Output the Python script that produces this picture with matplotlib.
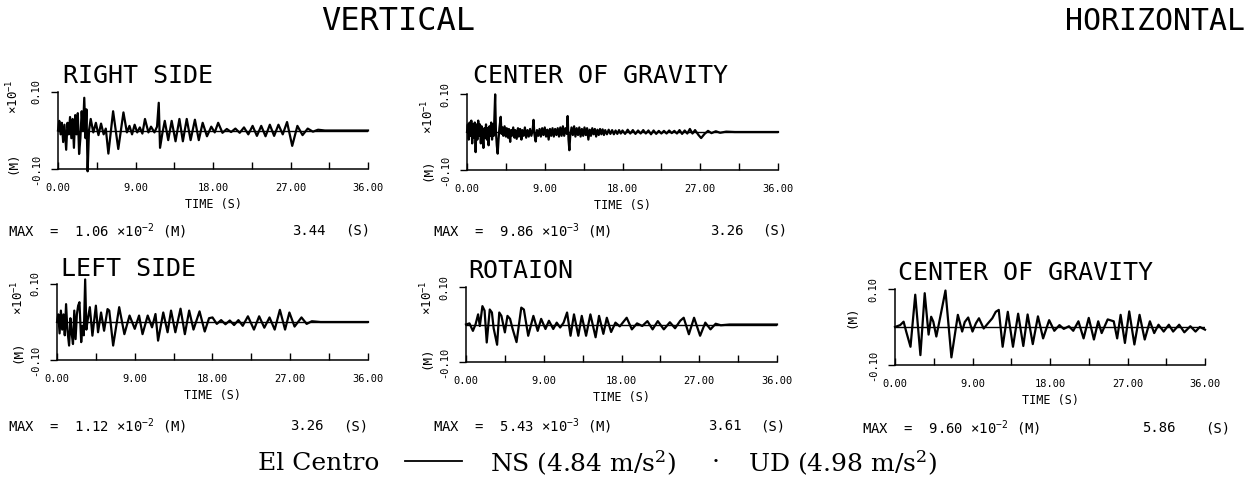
import matplotlib.pyplot as plt
from matplotlib.lines import Line2D

# El Centro response time histories (axis units)
# vertical panels: x10^-1 m, horizontal panel: m
right_side = [(0, 0), (0.15, 0.025), (0.3, -0.01), (0.45, 0.02), (0.6, -0.03), (0.75, 0.015),
              (0.95, -0.05), (1.1, 0.02), (1.25, -0.01), (1.4, 0.035), (1.55, -0.02), (1.7, 0.03),
              (1.85, -0.045), (2.0, 0.04), (2.15, -0.01), (2.3, 0.045), (2.45, -0.061), (2.6, -0.02),
              (2.75, 0.05), (2.9, 0.0), (3.05, 0.085), (3.2, -0.02), (3.3, 0.055), (3.44, -0.106),
              (3.6, 0.0), (3.8, 0.03), (4.1, -0.005), (4.4, 0.02), (4.7, -0.012), (5.0, 0.018),
              (5.3, -0.01), (5.55, 0.005), (5.85, -0.06), (6.4, 0.05), (7.0, -0.048), (7.6, 0.047),
              (8.0, -0.005), (8.3, 0.012), (8.6, -0.01), (8.9, 0.015), (9.2, -0.005), (9.5, 0.008),
              (9.8, -0.008), (10.1, 0.03), (10.5, -0.005), (10.8, 0.01), (11.2, -0.005), (11.5, 0.01),
              (11.7, 0.072), (11.85, -0.045), (12.1, -0.01), (12.4, 0.025), (12.8, -0.025), (13.2, 0.025),
              (13.65, -0.028), (14.1, 0.03), (14.5, -0.028), (14.95, 0.03), (15.4, -0.025), (15.9, 0.028),
              (16.35, -0.025), (16.8, 0.02), (17.3, -0.015), (17.8, 0.01), (18.2, -0.005), (18.6, 0.02),
              (19.1, -0.006), (19.6, 0.004), (20.1, -0.004), (20.6, 0.005), (21.1, -0.006), (21.6, 0.008),
              (22.1, -0.01), (22.6, 0.012), (23.1, -0.014), (23.6, 0.012), (24.1, -0.015), (24.6, 0.015),
              (25.1, -0.014), (25.6, 0.015), (26.1, -0.01), (26.6, 0.022), (27.2, -0.04), (27.8, 0.012),
              (28.4, -0.012), (29.0, 0.005), (29.6, -0.003), (30.2, 0.002), (31, 0), (36, 0)]

cg_vert = [(0, 0), (0.1, 0.02), (0.2, -0.02), (0.3, 0.025), (0.4, -0.01), (0.5, 0.03), (0.6, -0.03),
           (0.7, 0.02), (0.8, -0.015), (0.9, 0.025), (1.0, -0.053), (1.1, 0.02), (1.2, -0.02), (1.3, 0.03),
           (1.4, -0.01), (1.5, 0.02), (1.6, -0.03), (1.7, 0.015), (1.8, -0.01), (1.9, -0.042), (2.0, 0.01),
           (2.1, -0.015), (2.2, 0.02), (2.3, -0.02), (2.4, 0.01), (2.5, -0.035), (2.6, 0.015), (2.7, -0.01),
           (2.8, 0.025), (2.9, -0.02), (3.0, 0.02), (3.1, -0.01), (3.26, 0.099), (3.35, 0.0), (3.45, -0.035),
           (3.55, -0.057), (3.65, -0.02), (3.75, 0.01), (3.9, 0.04), (4.0, -0.005), (4.1, 0.012), (4.2, -0.01),
           (4.35, 0.015), (4.5, -0.012), (4.6, 0.01), (4.75, -0.015), (4.85, 0.008), (5.0, -0.026), (5.1, 0.005),
           (5.2, -0.01), (5.35, 0.012), (5.5, -0.015), (5.6, 0.005), (5.75, -0.018), (5.9, 0.01), (6.0, -0.012),
           (6.15, 0.008), (6.3, -0.02), (6.4, 0.005), (6.55, -0.01), (6.7, 0.012), (6.85, -0.015), (7.0, 0.005),
           (7.15, -0.012), (7.3, 0.008), (7.45, -0.01), (7.6, 0.005), (7.7, 0.032), (7.8, -0.005), (7.95, -0.025),
           (8.1, 0.005), (8.25, -0.01), (8.4, 0.008), (8.55, -0.012), (8.7, 0.01), (8.85, -0.008), (9.0, 0.012),
           (9.15, -0.012), (9.3, 0.006), (9.45, -0.02), (9.6, 0.008), (9.75, -0.01), (9.9, 0.01), (10.05, -0.012),
           (10.2, 0.008), (10.35, -0.008), (10.5, 0.01), (10.65, -0.012), (10.8, 0.012), (10.95, -0.01),
           (11.1, 0.015), (11.25, -0.01), (11.4, 0.01), (11.55, -0.005), (11.65, 0.042), (11.75, -0.02),
           (11.85, -0.048), (11.95, -0.01), (12.1, 0.012), (12.25, -0.008), (12.4, 0.015), (12.55, -0.012),
           (12.7, 0.01), (12.85, -0.008), (13.0, 0.012), (13.15, -0.012), (13.3, 0.008), (13.45, -0.01),
           (13.6, 0.012), (13.75, -0.008), (13.9, 0.01), (14.05, -0.02), (14.2, 0.006), (14.35, -0.01),
           (14.5, 0.01), (14.65, -0.006), (14.8, 0.008), (14.95, -0.012), (15.1, 0.006), (15.25, -0.008),
           (15.4, 0.008), (15.55, -0.006), (15.7, 0.007), (15.85, -0.008), (16.0, 0.005), (16.2, -0.006),
           (16.4, 0.006), (16.6, -0.005), (16.8, 0.005), (17.0, -0.006), (17.2, 0.004), (17.4, -0.005),
           (17.6, 0.005), (17.8, -0.004), (18.0, 0.004), (18.3, -0.005), (18.6, 0.006), (18.9, -0.004),
           (19.2, 0.005), (19.5, -0.005), (19.8, 0.004), (20.1, -0.004), (20.4, 0.005), (20.7, -0.004),
           (21.0, 0.004), (21.3, -0.006), (21.6, 0.004), (21.9, -0.005), (22.2, 0.003), (22.5, -0.004),
           (22.8, 0.003), (23.1, -0.004), (23.4, 0.004), (23.7, -0.003), (24.0, 0.003), (24.3, -0.004),
           (24.6, 0.005), (24.9, -0.005), (25.2, 0.004), (25.5, -0.004), (25.8, 0.008), (26.1, -0.004),
           (26.4, 0.005), (26.8, -0.008), (27.1, -0.016), (27.5, -0.005), (27.9, 0.003), (28.3, -0.003),
           (28.8, 0.002), (29.3, -0.002), (30, 0.001), (31, 0), (36, 0)]

left_side = [(0, 0), (0.15, 0.02), (0.3, -0.03), (0.45, 0.03), (0.6, -0.02), (0.75, 0.02), (0.9, -0.035),
             (1.05, 0.047), (1.2, -0.02), (1.4, -0.062), (1.55, 0.01), (1.7, -0.03), (1.85, -0.058), (2.0, 0.03),
             (2.15, -0.045), (2.3, 0.02), (2.45, 0.043), (2.6, 0.052), (2.8, -0.053), (2.95, -0.01),
             (3.1, -0.035), (3.26, 0.112), (3.4, -0.02), (3.55, 0.005), (3.8, 0.039), (4.1, -0.036),
             (4.5, 0.043), (4.75, -0.027), (5.1, 0.025), (5.45, -0.023), (5.85, 0.034), (6.05, 0.03),
             (6.5, -0.062), (7.2, 0.039), (7.8, -0.032), (8.4, 0.017), (9.0, -0.018), (9.5, 0.017),
             (9.9, -0.032), (10.5, 0.017), (11.0, -0.014), (11.4, 0.021), (11.7, -0.049), (12.3, 0.025),
             (12.8, -0.027), (13.2, 0.03), (13.7, -0.027), (14.3, 0.035), (14.8, -0.032), (15.3, 0.03),
             (15.8, -0.02), (16.5, 0.028), (17.1, -0.025), (17.6, 0.01), (18.0, 0.012), (18.5, -0.005),
             (19.0, 0.005), (19.5, -0.006), (20.0, 0.004), (20.5, -0.008), (21.0, 0.005), (21.5, -0.01),
             (22.1, 0.015), (22.8, -0.02), (23.4, 0.015), (24.0, -0.015), (24.6, 0.012), (25.2, -0.02),
             (25.8, 0.032), (26.4, -0.02), (26.9, 0.025), (27.5, -0.012), (28.3, 0.012), (28.9, -0.005),
             (29.5, 0.002), (30.5, 0), (36, 0)]

rotation = [(0, 0), (0.4, 0.003), (0.8, -0.017), (1.1, 0.0), (1.4, 0.027), (1.6, -0.004), (1.9, 0.049),
            (2.15, 0.037), (2.4, -0.048), (2.75, 0.04), (3.0, 0.032), (3.2, -0.01), (3.6, -0.054),
            (3.85, 0.032), (4.1, 0.023), (4.5, -0.021), (4.8, 0.023), (5.1, 0.015), (5.4, -0.012),
            (5.85, -0.047), (6.4, 0.045), (6.7, 0.04), (7.2, -0.03), (7.8, 0.023), (8.3, -0.017),
            (8.7, 0.015), (9.2, -0.012), (9.6, 0.01), (10.1, -0.012), (10.5, 0.005), (10.9, -0.008),
            (11.3, 0.005), (11.7, 0.032), (12.1, -0.03), (12.5, 0.027), (13.0, -0.03), (13.4, 0.023),
            (13.9, -0.03), (14.4, 0.027), (15.0, -0.034), (15.4, 0.023), (15.9, -0.025), (16.3, 0.018),
            (16.8, -0.02), (17.3, 0.005), (17.8, -0.005), (18.6, 0.018), (19.2, -0.013), (19.8, 0.003),
            (20.4, -0.004), (21.0, 0.009), (21.6, -0.013), (22.2, 0.009), (22.9, -0.013), (23.6, 0.006),
            (24.2, -0.01), (24.8, 0.01), (25.2, 0.018), (25.8, -0.026), (26.4, 0.018), (27.1, -0.03),
            (27.7, 0.005), (28.3, -0.013), (28.9, 0.002), (29.5, -0.002), (30.5, 0), (36, 0)]

cg_horiz = [(0, 0), (0.6, 0.005), (1.0, 0.014), (1.3, -0.012), (1.8, -0.052), (2.35, 0.085), (2.95, -0.074),
            (3.45, 0.089), (3.9, -0.02), (4.2, 0.027), (4.45, 0.014), (4.8, -0.025), (5.2, 0.02), (5.86, 0.096),
            (6.55, -0.08), (7.3, 0.032), (7.8, -0.012), (8.1, 0.013), (8.5, 0.025), (9.0, -0.012), (9.4, 0.01),
            (9.75, 0.023), (10.3, -0.004), (10.7, 0.007), (11.3, 0.023), (11.7, 0.04), (12.05, 0.045),
            (12.5, -0.052), (13.1, 0.04), (13.7, -0.052), (14.3, 0.035), (14.9, -0.05), (15.4, 0.033),
            (16.0, -0.045), (16.6, 0.028), (17.2, -0.03), (17.9, 0.018), (18.5, -0.01), (19.1, 0.005),
            (19.6, -0.005), (20.2, 0.002), (20.7, -0.01), (21.3, 0.015), (21.9, -0.03), (22.5, 0.024),
            (23.1, -0.033), (23.6, 0.015), (24.0, -0.016), (24.7, 0.02), (25.4, 0.015), (25.8, -0.03),
            (26.2, 0.032), (26.7, -0.042), (27.2, 0.041), (27.8, -0.046), (28.4, 0.032), (29.0, -0.033),
            (29.6, 0.015), (30.1, -0.016), (30.6, 0.006), (31.2, -0.012), (31.8, 0.006), (32.3, -0.012),
            (33.0, 0.006), (33.6, -0.014), (34.3, 0.002), (34.9, -0.012), (35.4, 0.0), (36, -0.007)]

x_major = [0, 9, 18, 27, 36]
x_minor = [4.5, 13.5, 22.5, 31.5]

W, H = 1255, 483
plt.rcParams['font.family'] = 'DejaVu Sans Mono'
plt.rcParams['mathtext.default'] = 'regular'

fig = plt.figure(figsize=(W / 100, H / 100), dpi=100)


def ftext(x, y, s, **kw):
    kw.setdefault('ha', 'left')
    kw.setdefault('va', 'center')
    fig.text(x / W, 1 - y / H, s, **kw)


def draw(box, pts):
    x0, x1, ytop, ybot = box
    ax = fig.add_axes([x0 / W, 1 - ybot / H, (x1 - x0) / W, (ybot - ytop) / H])
    t, v = zip(*pts)
    ax.plot(t, v, color='black', lw=1.6, clip_on=False, solid_joinstyle='round')
    ax.axhline(0, color='black', lw=1.0)
    ax.set_xlim(0, 36)
    ax.set_ylim(-0.1, 0.1)
    ax.patch.set_visible(False)
    for s in ['top', 'right']:
        ax.spines[s].set_visible(False)
    for s in ['left', 'bottom']:
        ax.spines[s].set_linewidth(1.1)
    ax.set_xticks(x_major)
    ax.set_xticklabels(['%.2f' % x for x in x_major])
    ax.set_xticks(x_minor, minor=True)
    ax.tick_params(axis='x', which='both', direction='in', length=5, width=1, pad=10, labelsize=7.5)
    ax.set_yticks([-0.1, 0.1])
    ax.set_yticklabels(['-0.10', '0.10'], rotation=90, va='center')
    ax.tick_params(axis='y', direction='out', length=5, width=1, pad=7, labelsize=7.5)
    ax.set_xlabel('TIME (S)', fontsize=8.5, labelpad=4)
    return ax


draw((58, 368, 92, 169), right_side)
draw((467, 778, 94, 170), cg_vert)
draw((57, 368, 284, 360), left_side)
draw((466, 777, 287, 362), rotation)
draw((895, 1205, 289, 365), cg_horiz)

# headings
ftext(398, 22, 'VERTICAL', ha='center', fontsize=23)
ftext(1155, 22, 'HORIZONTAL', ha='center', fontsize=21.5)

ftext(63, 76, 'RIGHT SIDE', fontsize=18)
ftext(473, 76, 'CENTER OF GRAVITY', fontsize=18)
ftext(61, 269, 'LEFT SIDE', fontsize=18)
ftext(468, 271, 'ROTAION', fontsize=18)
ftext(898, 273, 'CENTER OF GRAVITY', fontsize=18)

# y-axis unit labels
for x, y1, y2 in [(13, 97, 163), (428, 117, 170), (18, 298, 352), (427, 298, 358)]:
    ftext(x, y1, r'$\times$10$^{-1}$', ha='center', rotation=90, fontsize=9)
    ftext(x, y2, '(M)', ha='center', rotation=90, fontsize=9)
ftext(852, 317, '(M)', ha='center', rotation=90, fontsize=9)

# maximum values
ms = 10
ftext(8, 231, r'MAX  =  1.06 $\times$10$^{-2}$ (M)', fontsize=ms)
ftext(292, 231, '3.44', fontsize=ms)
ftext(345, 231, '(S)', fontsize=ms)
ftext(433, 231, r'MAX  =  9.86 $\times$10$^{-3}$ (M)', fontsize=ms)
ftext(710, 231, '3.26', fontsize=ms)
ftext(762, 231, '(S)', fontsize=ms)
ftext(8, 426, r'MAX  =  1.12 $\times$10$^{-2}$ (M)', fontsize=ms)
ftext(290, 426, '3.26', fontsize=ms)
ftext(343, 426, '(S)', fontsize=ms)
ftext(433, 426, r'MAX  =  5.43 $\times$10$^{-3}$ (M)', fontsize=ms)
ftext(708, 426, '3.61', fontsize=ms)
ftext(760, 426, '(S)', fontsize=ms)
ftext(862, 428, r'MAX  =  9.60 $\times$10$^{-2}$ (M)', fontsize=ms)
ftext(1142, 428, '5.86', fontsize=ms)
ftext(1205, 428, '(S)', fontsize=ms)

# caption
cap = dict(fontsize=18, family='DejaVu Serif')
ftext(258, 463, 'El Centro', **cap)
fig.add_artist(Line2D([405 / W, 462 / W], [1 - 461 / H, 1 - 461 / H], color='black', lw=1.3))
ftext(490, 463, 'NS (4.84 m/s$^2$)', **cap)
ftext(712, 463, '\u00b7', **cap)
ftext(748, 463, 'UD (4.98 m/s$^2$)', **cap)

fig.savefig('out.png', dpi=100)
